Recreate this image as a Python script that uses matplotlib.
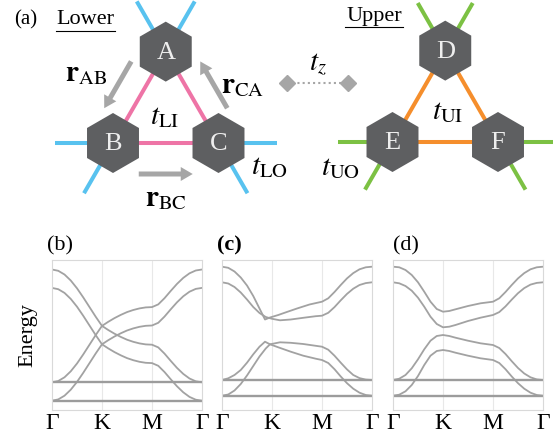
import matplotlib
matplotlib.use("Agg")
import matplotlib.pyplot as plt
from matplotlib.patches import RegularPolygon, FancyArrow
import numpy as np

plt.rcParams['font.family'] = ['Liberation Serif', 'DejaVu Serif']
plt.rcParams['mathtext.fontset'] = 'stix'

# ---- data -------------------------------------------------------------
k_ticks = [0, 1, 2, 3]
k_labels = ['Γ', 'K', 'M', 'Γ']

lower_sites = ['A', 'B', 'C']
upper_sites = ['D', 'E', 'F']

# (b) uncoupled layers
b_k = [0, 0.125, 0.25, 0.375, 0.5, 0.625, 0.75, 0.875, 1, 1.125, 1.25, 1.375, 1.5,
       1.625, 1.75, 1.875, 2, 2.125, 2.25, 2.375, 2.5, 2.625, 2.75, 2.875, 3]
b_upper_top = [14.05, 13.92, 13.55, 12.95, 12.17, 11.26, 10.29, 9.32, 8.41, 8.82, 9.19, 9.51,
               9.79, 10.00, 10.16, 10.26, 10.29, 10.56, 11.18, 11.91, 12.61, 13.21, 13.67, 13.95, 14.05]
b_upper_mid = [2.77, 2.90, 3.27, 3.87, 4.65, 5.56, 6.53, 7.50, 8.41, 8.00, 7.63, 7.31,
               7.03, 6.82, 6.66, 6.56, 6.53, 6.26, 5.64, 4.91, 4.21, 3.61, 3.15, 2.87, 2.77]
b_lower_top = [12.21, 12.08, 11.71, 11.11, 10.33, 9.42, 8.45, 7.48, 6.57, 6.98, 7.35, 7.67,
               7.95, 8.16, 8.32, 8.42, 8.45, 8.72, 9.34, 10.07, 10.77, 11.37, 11.83, 12.11, 12.21]
b_lower_mid = [0.93, 1.06, 1.43, 2.03, 2.81, 3.72, 4.69, 5.66, 6.57, 6.16, 5.79, 5.47,
               5.19, 4.98, 4.82, 4.72, 4.69, 4.42, 3.80, 3.07, 2.37, 1.77, 1.31, 1.03, 0.93]
b_flat = [2.77, 0.93]

# (c)
c_p_k = [0, 0.125, 0.25, 0.375, 0.5, 0.625, 0.75, 0.86, 0.96, 1.125, 1.25, 1.5, 1.75,
         2, 2.125, 2.25, 2.375, 2.5, 2.625, 2.75, 2.875, 3]
c_p_e = [14.33, 14.22, 13.85, 13.25, 12.45, 11.4, 10.15, 9.05, 9.25, 9.5, 9.72, 10.15, 10.55,
         10.83, 11.17, 11.8, 12.5, 13.16, 13.69, 14.07, 14.27, 14.33]
c_q_k = [0, 0.125, 0.25, 0.375, 0.5, 0.625, 0.75, 0.875, 1, 1.16, 1.375, 1.625, 1.875,
         2, 2.125, 2.25, 2.375, 2.5, 2.625, 2.75, 2.875, 3]
c_q_e = [12.77, 12.65, 12.3, 11.75, 11.05, 10.3, 9.7, 9.3, 9.12, 8.97, 9.05, 9.22, 9.38,
         9.43, 9.72, 10.29, 10.97, 11.61, 12.13, 12.5, 12.69, 12.77]
c_r_k = [0, 0.125, 0.25, 0.375, 0.5, 0.625, 0.75, 0.86, 0.96, 1.125, 1.375, 1.625, 1.875,
         2, 2.125, 2.25, 2.375, 2.5, 2.625, 2.75, 2.875, 3]
c_r_e = [3.0, 3.17, 3.5, 4.0, 4.73, 5.57, 6.33, 6.83, 6.57, 6.27, 5.83, 5.43, 5.13,
         5.0, 4.7, 4.08, 3.35, 2.68, 2.13, 1.73, 1.5, 1.43]
c_s_k = [0, 0.125, 0.25, 0.375, 0.5, 0.625, 0.75, 0.875, 0.96, 1.16, 1.375, 1.625, 1.875,
         2, 2.125, 2.25, 2.375, 2.5, 2.625, 2.75, 2.875, 3]
c_s_e = [1.43, 1.55, 1.95, 2.6, 3.45, 4.4, 5.35, 6.15, 6.57, 6.77, 6.72, 6.6, 6.42,
         6.33, 6.03, 5.43, 4.73, 4.06, 3.5, 3.19, 3.04, 3.0]
c_flat = [3.0, 1.43]

# (d)
d_k = [0, 0.125, 0.25, 0.375, 0.5, 0.625, 0.75, 0.875, 1, 1.125, 1.25, 1.5, 1.75,
       2, 2.125, 2.25, 2.375, 2.5, 2.625, 2.75, 2.875, 3]
d_band6 = [14.33, 14.27, 14.0, 13.5, 12.77, 11.83, 10.83, 10.1, 9.83, 9.9, 10.07, 10.4, 10.67,
           10.83, 11.17, 11.8, 12.5, 13.16, 13.69, 14.07, 14.27, 14.33]
d_band5 = [12.77, 12.67, 12.4, 11.93, 11.23, 10.33, 9.33, 8.6, 8.27, 8.33, 8.5, 8.9, 9.23,
           9.5, 9.79, 10.36, 11.04, 11.68, 12.19, 12.54, 12.71, 12.77]
d_band4 = [3.0, 3.13, 3.5, 4.17, 5.07, 6.07, 6.93, 7.4, 7.5, 7.4, 7.23, 6.93, 6.67,
           6.5, 6.2, 5.6, 4.88, 4.2, 3.65, 3.27, 3.06, 3.0]
d_band3 = [1.43, 1.53, 1.87, 2.5, 3.4, 4.5, 5.43, 5.9, 6.0, 5.9, 5.73, 5.43, 5.17,
           5.0, 4.7, 4.08, 3.35, 2.68, 2.13, 1.73, 1.5, 1.43]
d_flat = [3.0, 1.43]

# ---- styles -----------------------------------------------------------
HEX_COLOR = '#5e5f61'
ARROW_COLOR = '#a6a6a6'
BAND_COLOR = '#a2a2a2'
FRAME_COLOR = '#d9d9d9'
MATH_SIZE = 21

fig = plt.figure(figsize=(5.53, 4.37), dpi=100)

# schematic drawn in pixel coordinates (y down)
ax0 = fig.add_axes([0, 0, 1, 1])
ax0.set_xlim(0, 553)
ax0.set_ylim(437, 0)
ax0.axis('off')

side = 105.5
h = side * np.sqrt(3) / 2


def draw_layer(names, bl, inner_color, outer_color, stub):
    bx, by = bl
    pos = [np.array([bx + side / 2, by - h]), np.array([bx, by]), np.array([bx + side, by])]
    s3 = np.sqrt(3) / 2
    stubs = [[(-0.5, -s3), (0.5, -s3)], [(-1, 0), (-0.5, s3)], [(1, 0), (0.5, s3)]]
    for p, dirs in zip(pos, stubs):
        for d in dirs:
            q = p + stub * np.array(d)
            ax0.plot([p[0], q[0]], [p[1], q[1]], color=outer_color, lw=2.9,
                     solid_capstyle='butt', zorder=1)
    for i, j in [(0, 1), (1, 2), (2, 0)]:
        ax0.plot([pos[i][0], pos[j][0]], [pos[i][1], pos[j][1]], color=inner_color,
                 lw=2.9, solid_capstyle='butt', zorder=1)
    for p, name in zip(pos, names):
        ax0.add_patch(RegularPolygon(p, numVertices=6, radius=30, orientation=0,
                                     facecolor=HEX_COLOR, edgecolor='none', zorder=3))
        ax0.text(p[0], p[1] + 1, name, color='#eeeeee', fontsize=19,
                 ha='center', va='center', zorder=4)
    return pos


lo = draw_layer(lower_sites, (113, 143), '#ee74a6', '#58c2ef', 58)
up = draw_layer(upper_sites, (392.5, 142), '#f58e2c', '#7cc143', 55)

# position arrows along the lower triangle
centroid = sum(lo) / 3
for i, j, off in [(0, 1, 25), (2, 0, 25), (1, 2, 31)]:
    d = (lo[j] - lo[i]) / side
    mid = (lo[i] + lo[j]) / 2
    n = mid - centroid
    n = n / np.linalg.norm(n)
    c = mid + off * n
    tail = c - 27 * d
    ax0.add_patch(FancyArrow(tail[0], tail[1], 54 * d[0], 54 * d[1], width=5,
                             head_width=14, head_length=12, length_includes_head=True,
                             color=ARROW_COLOR, lw=0, zorder=2))

ax0.text(14, 20, '(a)', fontsize=15, ha='left', va='center')
ax0.text(85, 20, 'Lower', fontsize=16, ha='center', va='center')
ax0.plot([56, 115], [30.5, 30.5], color='black', lw=0.8)
ax0.text(374, 16, 'Upper', fontsize=16, ha='center', va='center')
ax0.plot([345, 403], [27, 27], color='black', lw=0.8)

ax0.text(86, 74, r'$\mathbf{r}_{\mathrm{AB}}$', fontsize=MATH_SIZE, ha='center', va='center')
ax0.text(243, 86, r'$\mathbf{r}_{\mathrm{CA}}$', fontsize=MATH_SIZE, ha='center', va='center')
ax0.text(166, 199, r'$\mathbf{r}_{\mathrm{BC}}$', fontsize=MATH_SIZE, ha='center', va='center')
ax0.text(165, 117, r'$t_{\mathrm{LI}}$', fontsize=MATH_SIZE, ha='center', va='center')
ax0.text(269, 167, r'$t_{\mathrm{LO}}$', fontsize=MATH_SIZE, ha='center', va='center')
ax0.text(448, 112, r'$t_{\mathrm{UI}}$', fontsize=MATH_SIZE, ha='center', va='center')
ax0.text(340, 168, r'$t_{\mathrm{UO}}$', fontsize=MATH_SIZE, ha='center', va='center')
ax0.text(318, 65, r'$t_z$', fontsize=MATH_SIZE, ha='center', va='center')
ax0.plot([287, 348], [83, 83], color=ARROW_COLOR, lw=1.5, ls=(0, (1, 1.5)), zorder=2)
ax0.plot([287, 348], [83, 83], ls='none', marker='D', ms=8, color=ARROW_COLOR, zorder=3)

# band panels
panels = [
    ('(b)', -0.035, [(b_k, b_upper_top), (b_k, b_upper_mid), (b_k, b_lower_top), (b_k, b_lower_mid)], b_flat),
    ('(c)', -0.035, [(c_p_k, c_p_e), (c_q_k, c_q_e), (c_r_k, c_r_e), (c_s_k, c_s_e)], c_flat),
    ('(d)', 0.0, [(d_k, d_band6), (d_k, d_band5), (d_k, d_band4), (d_k, d_band3)], d_flat),
]
lefts = [52, 222, 393]
for (label, lx, curves, flats), left in zip(panels, lefts):
    ax = fig.add_axes([left / 553, 27 / 437, 150 / 553, 150 / 437])
    for k, e in curves:
        ax.plot(k, e, color=BAND_COLOR, lw=1.3, zorder=2)
    for f in flats:
        ax.plot([0, 3], [f, f], color='#9c9c9c', lw=1.7, zorder=2)
    ax.set_xlim(0, 3)
    ax.set_ylim(0, 15)
    ax.set_xticks(k_ticks)
    ax.set_xticklabels(k_labels, fontsize=17)
    ax.set_yticks([])
    ax.tick_params(length=0, pad=2)
    for x in k_ticks[1:3]:
        ax.axvline(x, color='#e8e8e8', lw=0.8, zorder=1)
    for sp in ax.spines.values():
        sp.set_color(FRAME_COLOR)
        sp.set_linewidth(0.8)
    ax.text(lx, 1.097, label, transform=ax.transAxes, fontsize=16,
            ha='left', va='center',
            fontweight='bold' if label == '(c)' else 'normal')
    if label == '(b)':
        ax.set_ylabel('Energy', fontsize=16)
        ax.yaxis.set_label_coords(-0.1, 0.5)

fig.savefig('out.png', dpi=100)
